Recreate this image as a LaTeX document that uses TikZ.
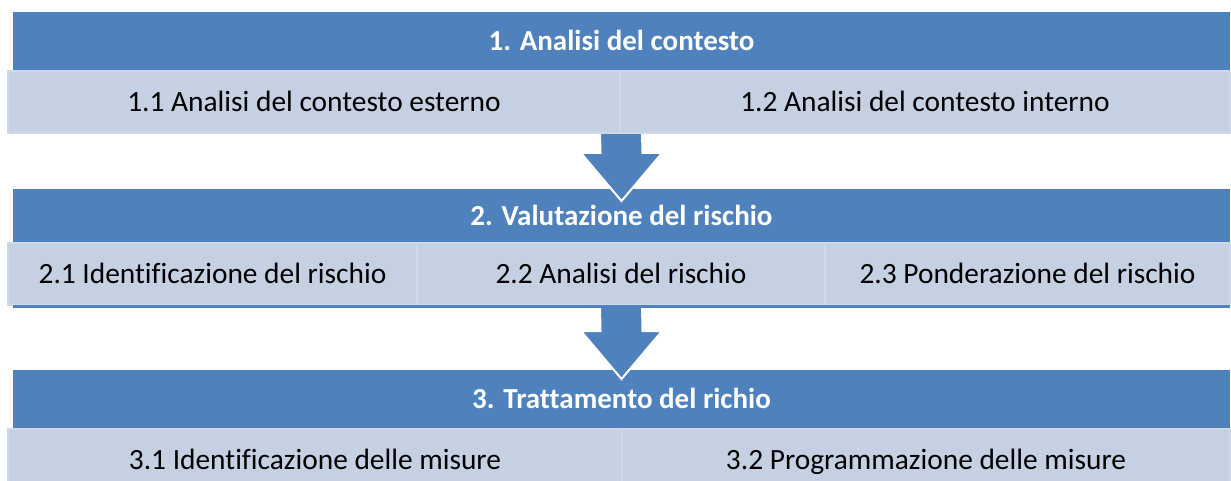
\documentclass[tikz,border=0pt]{standalone}
\usepackage{fontspec}
\setmainfont[Ligatures=NoCommon]{Carlito}
\usetikzlibrary{calc}
\definecolor{bandblue}{HTML}{4F81BD}
\definecolor{cellfill}{HTML}{C5D0E3}
\definecolor{cellline}{HTML}{CFD8E8}

\begin{document}
\begin{tikzpicture}[x=1pt,y=-1pt,
		band/.style={fill=bandblue,text=white,inner sep=0pt,outer sep=0pt,
			minimum width=1217pt,minimum height=#1,text height=18.7pt,text depth=0pt,
			font=\fontsize{29}{34}\selectfont\bfseries},
		cell/.style={fill=cellfill,draw=cellline,line width=2pt,inner sep=0pt,
			outer sep=0pt,minimum height=62pt,minimum width=#1,
			text height=18.9pt,text depth=0pt,font=\fontsize{29.4}{34}\selectfont},
		blockarrow/.style={fill=bandblue,draw=white,line width=2pt,line join=miter}]
	\useasboundingbox (0,0) rectangle (1231,481);
	\clip (0,0) rectangle (1231,481);

	% headers
	\node[band=59pt] (b1) at (621.5,41.5) {1. Analisi del contesto};
	\node[band=54pt] (b2) at (621.5,216) {2. Valutazione del rischio};
	\node[band=59pt] (b3) at (621.5,399.5) {3. Trattamento del richio};

	% arrows between the steps
	\coordinate (s1) at (621,133);
	\coordinate (e1) at ($(b2.north)+(0,12)$);
	\coordinate (s2) at (621,306);
	\coordinate (e2) at ($(b3.north)+(0,9)$);
	\foreach \s/\e in {s1/e1,s2/e2}
	\filldraw[blockarrow] ($(\s)+(-21,0)$) -- ($(\s)+(21,0)$) -- ($(\e)+(21,-48)$)
		-- ($(\e)+(40.5,-48)$) -- (\e) -- ($(\e)+(-40.5,-48)$)
		-- ($(\e)+(-21,-48)$) -- cycle;

	% row 1
	\node[cell=612pt] (c11) at (314,102) {1.1 Analisi del contesto esterno};
	\node[cell=610pt] (c12) at (925,102) {1.2 Analisi del contesto interno};

	% row 2
	\node[cell=409pt] (c21) at (212.5,274) {2.1 Identificazione del rischio};
	\node[cell=408pt] (c22) at (621,274) {2.2 Analisi del rischio};
	\node[cell=405pt] (c23) at (1027.5,274) {2.3 Ponderazione del rischio};
	\draw[bandblue,line width=2.5pt] ($(c21.south -| b2.west)+(0,1.5)$)
		-- ($(c23.south -| b2.east)+(0,1.5)$);

	% row 3
	\node[cell=614pt] (c31) at (315,460) {3.1 Identificazione delle misure};
	\node[cell=608pt] (c32) at (926,460) {3.2 Programmazione delle misure};
\end{tikzpicture}
\end{document}
